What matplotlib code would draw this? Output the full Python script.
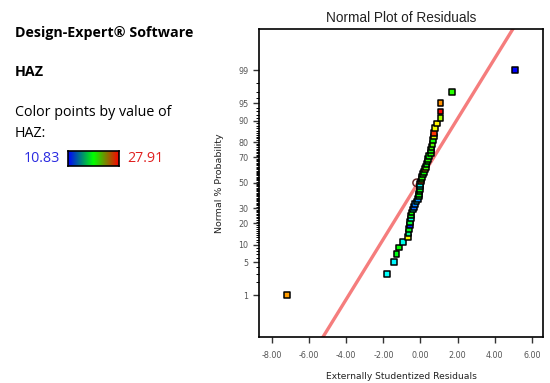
from statistics import NormalDist
import numpy as np
import matplotlib
matplotlib.use("Agg")
import matplotlib.pyplot as plt
from matplotlib.colors import LinearSegmentedColormap, Normalize

# residuals sorted (externally studentized)
residuals = [-7.21, -1.82, -1.43, -1.29, -1.14, -0.96, -0.66, -0.64, -0.61, -0.57,
             -0.55, -0.53, -0.50, -0.48, -0.39, -0.34, -0.30, -0.21, -0.12, -0.09,
             -0.07, -0.05, -0.03, -0.03, -0.02, 0.02, 0.05, 0.08, 0.15, 0.20,
             0.24, 0.29, 0.33, 0.38, 0.42, 0.47, 0.55, 0.57, 0.60, 0.65,
             0.68, 0.72, 0.74, 0.79, 0.90, 1.08, 1.08, 1.08, 1.69, 5.10]
# HAZ value of each run (point colour)
haz = [25.3, 15.2, 15.0, 19.0, 19.5, 15.5, 23.5, 17.0, 19.0, 11.5,
       18.5, 15.3, 18.8, 19.6, 15.8, 12.5, 13.0, 15.0, 13.2, 18.9,
       19.3, 19.8, 19.1, 15.9, 15.4, 26.0, 19.4, 19.9, 20.2, 19.5,
       24.8, 20.5, 19.3, 19.8, 20.1, 19.5, 20.0, 19.6, 20.3, 20.8,
       19.7, 23.0, 27.0, 23.4, 23.8, 22.2, 27.9, 25.5, 20.0, 10.83]
haz_min, haz_max = 10.83, 27.91

# marked point near the median
marked_x, marked_pct = -0.21, 50

# reference line (centre at 50 %, residual units per normal score)
line_center = -0.13
line_slope = 1.606

prob_ticks = [1, 5, 10, 20, 30, 50, 70, 80, 90, 95, 99]
x_ticks = [-8, -6, -4, -2, 0, 2, 4, 6]

nd = NormalDist()
n = len(residuals)
zscores = [nd.inv_cdf((i + 0.5) / n) for i in range(n)]

pt_cmap = LinearSegmentedColormap.from_list(
    "pts", ["#0000ff", "#00ffff", "#00ff00", "#ffff00", "#ff0000"])
bar_cmap = LinearSegmentedColormap.from_list("bar", ["#0000ff", "#00ff00", "#ff0000"])
norm = Normalize(haz_min, haz_max)

W, H = 550, 383
fig = plt.figure(figsize=(W / 100, H / 100), dpi=100)
ax = fig.add_axes([259 / W, 1 - 337 / H, 284 / W, 308 / H])

ax.axline((line_center, 0), slope=1 / line_slope, color="#f57d7d", lw=2.4, zorder=2)
ax.scatter(residuals, zscores, c=[pt_cmap(norm(v)) for v in haz], marker="s", s=17,
           edgecolors="black", linewidths=1.1, zorder=3)
ax.scatter([marked_x], [nd.inv_cdf(marked_pct / 100)], marker="o", s=28,
           facecolors="none", edgecolors="#6a2a2a", linewidths=1.1, zorder=2.5)

ax.set_xlim(-8.7, 6.6)
ax.set_ylim(-3.19, 3.18)
ax.set_xticks(x_ticks)
ax.set_xticklabels([f"{v:.2f}" for v in x_ticks])
ax.set_yticks([nd.inv_cdf(p / 100) for p in prob_ticks])
ax.set_yticklabels([str(p) for p in prob_ticks])
ax.set_yticks([nd.inv_cdf(p / 100) for p in range(2, 99) if p not in prob_ticks],
              minor=True)
ax.tick_params(axis="both", labelsize=5.8, colors="#333333", length=4, width=1)
ax.tick_params(axis="x", labelcolor="#555555")
ax.tick_params(axis="y", labelcolor="#555555")
ax.tick_params(axis="y", which="minor", length=2, width=0.7)
ax.tick_params(axis="x", pad=6)
for s in ax.spines.values():
    s.set_linewidth(1.2)

ax.set_title("Normal Plot of Residuals", fontsize=9.8, pad=5, color="#222222",
             family="Liberation Sans")
ax.set_xlabel("Externally Studentized Residuals", fontsize=6.6, labelpad=9,
              color="#222222")
ax.set_ylabel("Normal % Probability", fontsize=6.8, labelpad=10, color="#222222")

# left-hand info panel
fs = 10.3
fig.text(15 / W, 1 - 33 / H, "Design-Expert® Software", fontsize=fs,
         fontweight="bold", family="Open Sans", va="center")
fig.text(15 / W, 1 - 72 / H, "HAZ", fontsize=fs, fontweight="bold",
         family="Open Sans", va="center")
fig.text(15 / W, 1 - 112 / H, "Color points by value of", fontsize=fs,
         family="Open Sans", va="center")
fig.text(15 / W, 1 - 133 / H, "HAZ:", fontsize=fs, family="Open Sans", va="center")
fig.text(24 / W, 1 - 158 / H, f"{haz_min:.2f}", fontsize=fs, color="#2a2ae0",
         family="Open Sans", va="center")
fig.text(127 / W, 1 - 158 / H, f"{haz_max:.2f}", fontsize=fs, color="#e02020",
         family="Open Sans", va="center")
cax = fig.add_axes([68 / W, 1 - 166 / H, 51 / W, 15 / H])
cax.imshow(np.linspace(0, 1, 256)[None, :], cmap=bar_cmap, aspect="auto")
cax.set_xticks([])
cax.set_yticks([])
for s in cax.spines.values():
    s.set_linewidth(1.2)

fig.savefig("out.png", dpi=100)
